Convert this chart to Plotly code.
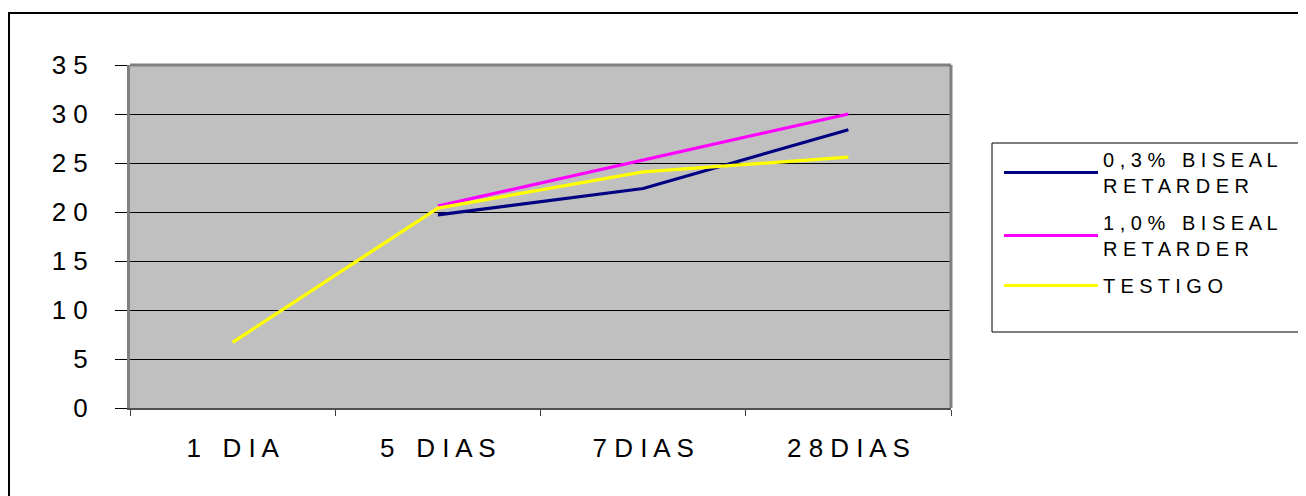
import plotly.graph_objects as go

categories = ["1 DIA", "5 DIAS", "7DIAS", "28DIAS"]
series_names = ["0,3% BISEAL|RETARDER", "1,0% BISEAL|RETARDER", "TESTIGO"]
s03 = [None, 19.7, 22.4, 28.4]
s10 = [None, 20.6, 25.3, 30.0]
testigo = [6.7, 20.4, 24.1, 25.6]
y_ticks = [0, 5, 10, 15, 20, 25, 30, 35]
colors = ["#000080", "#FF00FF", "#FFFF00"]

SP = " "


def spaced(s):
    return "<br>".join(SP.join(list(part)) for part in s.split("|"))


# the page body has an 8px margin; work in figure pixels = screen - 8
OFF = 8
W, H = 1306 - OFF, 496 - OFF
L, R, T, B = 130 - OFF, 951 - OFF, 65 - OFF, 408 - OFF

px = lambda v: (v - OFF - L) / (R - L)
py = lambda v: (B - (v - OFF)) / (B - T)

fig = go.Figure()
for i, (name, vals, col) in enumerate(zip(series_names, [s03, s10, testigo], colors)):
    fig.add_trace(go.Scatter(
        x=categories, y=vals, mode="lines", name=spaced(name),
        line=dict(color=col, width=3.2), connectgaps=False,
        legendgroup=f"g{i}",
    ))

fig.update_layout(
    width=W, height=H, autosize=False,
    margin=dict(l=L, r=W - R, t=T, b=H - B, pad=0),
    paper_bgcolor="white", plot_bgcolor="#C0C0C0",
    font=dict(family="Liberation Sans, Arial, sans-serif", color="black"),
    showlegend=True,
    legend=dict(
        x=px(999), y=py(140),
        xanchor="left", yanchor="top",
        borderwidth=0, bgcolor="rgba(0,0,0,0)",
        font=dict(size=20), itemwidth=94, tracegroupgap=8,
    ),
)

fig.update_xaxes(
    type="category", range=[-0.5, 3.5],
    tickmode="array", tickvals=categories, ticktext=[spaced(c) for c in categories],
    tickson="boundaries", ticks="outside", ticklen=6, tickcolor="#404040",
    tickfont=dict(size=26), ticklabelstandoff=16,
    showline=True, linecolor="#505050", linewidth=2,
    showgrid=False, zeroline=False,
)
fig.update_yaxes(
    range=[0, 35], tickmode="array", tickvals=y_ticks,
    ticktext=[spaced(str(v)) for v in y_ticks],
    ticks="outside", ticklen=12, tickcolor="black",
    tickfont=dict(size=26), ticklabelstandoff=22,
    showgrid=True, gridcolor="black", gridwidth=1,
    showline=True, linecolor="#808080", linewidth=3,
    zeroline=False,
)

# plot area frame (top and right edges)
fig.add_shape(type="line", xref="paper", yref="paper", x0=0, x1=1, y0=1, y1=1,
              line=dict(color="#808080", width=3))
fig.add_shape(type="line", xref="paper", yref="paper", x0=1, x1=1, y0=0, y1=1,
              line=dict(color="#808080", width=3))

# legend box
fig.add_shape(type="rect", xref="paper", yref="paper",
              x0=px(992), x1=px(1302), y0=py(143), y1=py(332),
              line=dict(color="black", width=1), layer="below")

# outer chart border
fig.add_shape(type="rect", xref="paper", yref="paper",
              x0=px(9), x1=px(1330), y0=py(13), y1=py(530),
              line=dict(color="black", width=2), layer="below")

fig.write_html("out.html")
